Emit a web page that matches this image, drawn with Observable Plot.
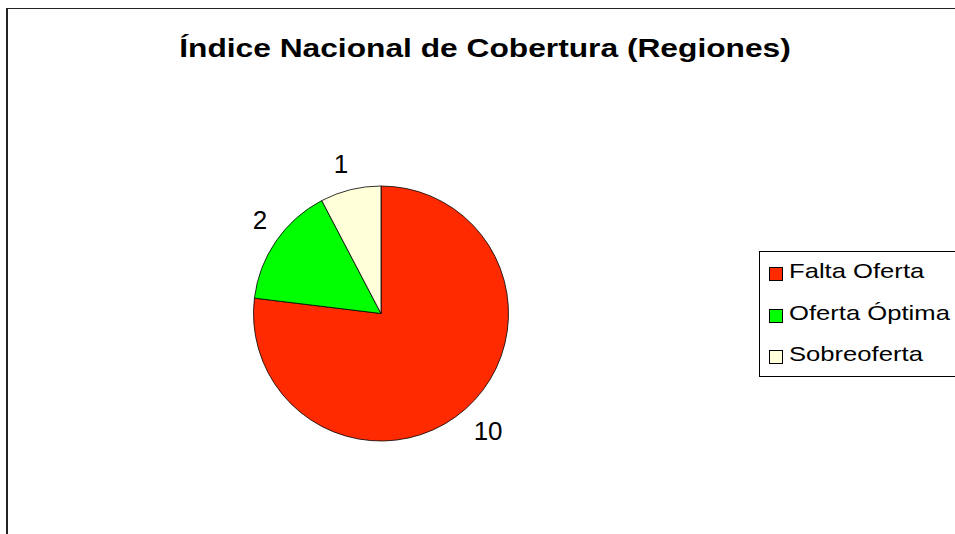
<!DOCTYPE html>
<html>
<head>
<meta charset="utf-8">
<script src="https://cdn.jsdelivr.net/npm/d3@7"></script>
<script src="https://cdn.jsdelivr.net/npm/@observablehq/plot@0.6"></script>
<style>
  html, body { margin: 0; padding: 0; background: #fff; }
  #wrap { position: relative; width: 955px; height: 534px; overflow: hidden; font-family: "Liberation Sans", Arial, sans-serif; }
  #frame { position: absolute; left: 6px; top: 8px; width: 1200px; height: 800px; border-left: 2px solid #222; border-top: 1.5px solid #222; }
  #title { position: absolute; left: 485px; top: 35px; font-size: 26px; line-height: 26px; font-weight: bold; white-space: nowrap; transform-origin: center; transform: translateX(-50%) scaleX(1.22); color: #000; }
  #legend { position: absolute; left: 759px; top: 251px; width: 300px; height: 124px; border: 1px solid #000; }
  .sw { position: absolute; width: 12px; height: 12px; border: 1px solid #000; }
  .lt { position: absolute; font-size: 21px; line-height: 21px; white-space: nowrap; transform-origin: left center; transform: scaleX(1.22); color: #000; }
  #chart { position: absolute; left: 0; top: 0; }
</style>
</head>
<body>
<div id="wrap">
  <div id="frame"></div>
  <div id="chart"></div>
  <div id="title"></div>
  <div id="legend"></div>
</div>
<script>
const titleText = "Índice Nacional de Cobertura (Regiones)";
const categories = ["Falta Oferta", "Oferta Óptima", "Sobreoferta"];
const values = [10, 2, 1];
const colors = ["#FF2A00", "#00FF00", "#FFFFD9"];

const data = categories.map((c, i) => ({category: c, value: values[i], color: colors[i]}));

// layout constants
const W = 955, H = 534;
const cx = 381, cy = 313.5, R = 127.5;
const anchorK = 1.09;          // label anchor radius (fraction of pie radius)
const labelFont = 26;
const labelBoxH = 28;          // px

const arcs = d3.pie().sort(null).value(d => d.value).startAngle(0).endAngle(2 * Math.PI)(data);
const labels = arcs.map(a => {
  const m = (a.startAngle + a.endAngle) / 2;
  const s = Math.sin(m), c = Math.cos(m);
  const text = String(a.data.value);
  const w = text.length * 0.556 * labelFont;
  return {
    x: anchorK * s + Math.sign(s) * (w / 2) / R,
    y: anchorK * c + Math.sign(c) * (labelBoxH / 2) / R,
    text
  };
});

const pieMark = (index, scales) => {
  const x0 = scales.x(0), y0 = scales.y(0), rr = scales.x(1) - x0;
  const arc = d3.arc().innerRadius(0).outerRadius(rr);
  const g = d3.create("svg:g").attr("transform", `translate(${x0},${y0})`);
  g.selectAll("path").data(arcs).join("path")
    .attr("d", arc)
    .attr("fill", d => d.data.color)
    .attr("stroke", "#000")
    .attr("stroke-width", 0.8)
    .attr("stroke-linejoin", "round");
  return g.node();
};

const chart = Plot.plot({
  width: W,
  height: H,
  margin: 0,
  style: {background: "transparent", fontFamily: "'Liberation Sans', Arial, sans-serif"},
  x: {domain: [-1, 1], range: [cx - R, cx + R], axis: null},
  y: {domain: [-1, 1], range: [cy + R, cy - R], axis: null},
  marks: [
    pieMark,
    Plot.text(labels, {x: "x", y: "y", text: "text", fontSize: labelFont, fill: "#000", textAnchor: "middle", lineAnchor: "middle"})
  ]
});
document.getElementById("chart").appendChild(chart);

document.getElementById("title").textContent = titleText;

const legend = document.getElementById("legend");
const legLeft = 759, legTop = 251;
categories.forEach((c, i) => {
  const sw = document.createElement("div");
  sw.className = "sw";
  sw.style.left = (769 - legLeft - 1) + "px";
  sw.style.top = (267 + i * 41.5 - legTop - 1) + "px";
  sw.style.background = colors[i];
  legend.appendChild(sw);
  const t = document.createElement("div");
  t.className = "lt";
  t.textContent = c;
  t.style.left = (789 - legLeft - 1) + "px";
  t.style.top = (278 + i * 41.5 - 17.8 - legTop - 1) + "px";
  legend.appendChild(t);
});
</script>
</body>
</html>
